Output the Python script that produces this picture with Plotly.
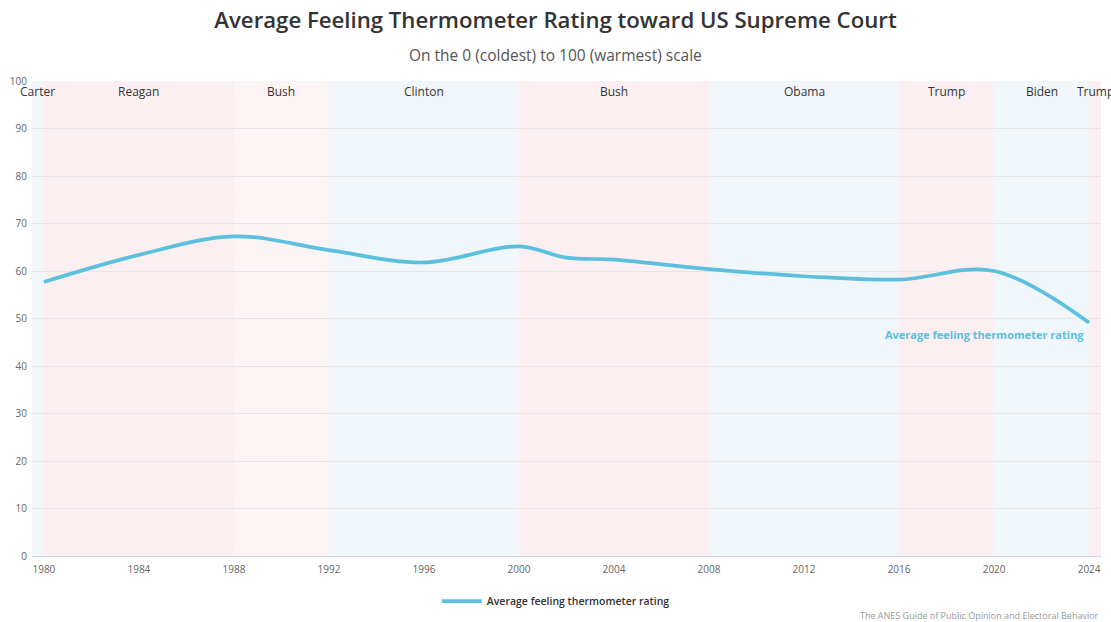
import plotly.graph_objects as go

# ---- data ----
years = [1980, 1984, 1988, 1992, 1996, 2000, 2002, 2004, 2008, 2012, 2016, 2020, 2024]
rating = [57.7, 63.4, 67.3, 64.4, 61.8, 65.2, 62.8, 62.4, 60.4, 58.9, 58.2, 60.0, 49.1]

pres_names = ["Carter", "Reagan", "Bush", "Clinton", "Bush", "Obama", "Trump", "Biden", "Trump"]
pres_start = [1979.5, 1980, 1988, 1992, 2000, 2008, 2016, 2020, 2024]
pres_end = [1980, 1988, 1992, 2000, 2008, 2016, 2020, 2024, 2024.5]
pres_party = ["D", "R", "R2", "D", "R", "D", "R", "D", "R"]
label_x = [1979.75, 1984, 1990, 1996, 2004, 2012, 2018, 2022, 2024.25]

x_ticks = list(range(1980, 2025, 4))
y_ticks = list(range(0, 101, 10))

party_colors = {"D": "#f1f6fb", "R": "#fbeff1", "R2": "#fdf4f5"}
line_color = "#5bc0de"
font_family = "Open Sans, Lato, sans-serif"

fig = go.Figure()

fig.add_trace(go.Scatter(
    x=years, y=rating, mode="lines",
    line=dict(color=line_color, width=3.7, shape="spline", smoothing=1.0),
    name="Average feeling thermometer rating",
    hoverinfo="x+y",
))

shapes = []
for s, e, p in zip(pres_start, pres_end, pres_party):
    shapes.append(dict(type="rect", xref="x", yref="paper", x0=s, x1=e, y0=0, y1=1,
                       fillcolor=party_colors[p], line=dict(width=0), layer="below"))

annotations = []
for n, lx in zip(pres_names, label_x):
    annotations.append(dict(x=lx, y=0.977, xref="x", yref="paper", text=n, showarrow=False,
                            font=dict(size=12, color="#333333", family=font_family),
                            xanchor="center", yanchor="middle"))

annotations.append(dict(x=2023.85, y=46.7, xref="x", yref="y",
                        text="<b>Average feeling thermometer rating</b>", showarrow=False,
                        font=dict(size=11, color=line_color, family=font_family),
                        xanchor="right", yanchor="middle"))

annotations.append(dict(x=0.490, y=1.055, xref="paper", yref="paper",
                        text="On the 0 (coldest) to 100 (warmest) scale", showarrow=False,
                        font=dict(size=15.5, color="#555555", family=font_family),
                        xanchor="center", yanchor="middle"))

annotations.append(dict(x=1.0, y=-0.126, xref="paper", yref="paper",
                        text="The ANES Guide of Public Opinion and Electoral Behavior", showarrow=False,
                        font=dict(size=9, color="#999999", family=font_family),
                        xanchor="right", yanchor="middle"))

fig.update_layout(
    width=1111, height=622,
    margin=dict(l=32, r=10, t=81, b=66, autoexpand=False),
    paper_bgcolor="white", plot_bgcolor="white",
    font=dict(family=font_family, color="#666666"),
    title=dict(text="Average Feeling Thermometer Rating toward US Supreme Court",
               x=0.5, xanchor="center", y=0.967, yanchor="middle",
               font=dict(size=22.2, color="#333333", family=font_family, weight=600)),
    shapes=shapes,
    annotations=annotations,
    showlegend=True,
    legend=dict(orientation="h", x=0.49, xanchor="center", y=-0.095, yanchor="middle",
                font=dict(size=10.5, color="#333333", family=font_family, weight=600),
                itemwidth=40),
    xaxis=dict(range=[1979.5, 2024.5], tickmode="array", tickvals=x_ticks,
               ticktext=[str(t) for t in x_ticks], showgrid=False, zeroline=False,
               showline=True, linecolor="#ccd6eb", linewidth=1,
               ticks="outside", ticklen=0, tickfont=dict(size=10, color="#666666"),
               ticklabelstandoff=4, fixedrange=True),
    yaxis=dict(range=[0, 100], tickmode="array", tickvals=y_ticks,
               showgrid=True, gridcolor="#e6e6e6", gridwidth=1, zeroline=False,
               showline=False, tickfont=dict(size=10, color="#666666"),
               ticklabelstandoff=4, fixedrange=True),
)

fig.write_html("out.html", config={"displayModeBar": False},
               post_script="document.body.style.margin='0';document.body.style.padding='0';")
